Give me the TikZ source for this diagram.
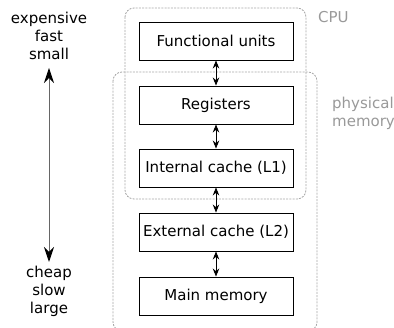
\documentclass[tikz,border=0pt]{standalone}
\usepackage{fontspec}
\setmainfont{DejaVu Sans}
\usetikzlibrary{arrows.meta}
\begin{document}
\begin{tikzpicture}[x=1pt,y=-1pt,
  level/.style={draw,line width=0.9pt,minimum width=154pt,minimum height=38pt,
    inner sep=0pt,font=\fontsize{15}{17}\selectfont},
  link/.style={line width=0.9pt,{Stealth[length=8pt,width=6.5pt]}-{Stealth[length=8pt,width=6.5pt]}},
  group/.style={draw=black!35,line width=0.8pt,dash pattern=on 2pt off 1.2pt,rounded corners=9pt},
  grouplabel/.style={text=black!40,font=\fontsize{15}{18}\selectfont,align=left,anchor=west,inner sep=0pt},
  scalelabel/.style={font=\fontsize{15}{18}\selectfont,align=center,inner sep=0pt}]
\useasboundingbox (0,0) rectangle (394,328);

% grouping outlines
\draw[group] (125,8) rectangle (306,199);
\draw[group] (113,72) rectangle (317,331);
\node[grouplabel] (cpu) at (318,17) {CPU};
\node[grouplabel] (phys) at (332,113) {physical\\memory};

% memory hierarchy levels
\node[level] (fu)  at (216,41)  {Functional units};
\node[level] (reg) at (216,105) {Registers};
\node[level] (l1)  at (216,168) {Internal cache (L1)};
\node[level] (l2)  at (216,232) {External cache (L2)};
\node[level] (mm)  at (216,296) {Main memory};

\draw[link] (fu.south) -- (reg.north);
\draw[link] (reg.south) -- (l1.north);
\draw[link] (l1.south) -- (l2.north);
\draw[link] (l2.south) -- (mm.north);

% cost / speed / size scale
\node[scalelabel] (top) at (49,36) {expensive\\fast\\small};
\node[scalelabel] (bot) at (49,291) {cheap\\slow\\large};
\coordinate (a) at (49,68);
\coordinate (b) at (49,262);
\draw[draw=black!60,line width=0.9pt,
  {Stealth[length=15pt,width=10pt,inset=5pt,color=black]}-{Stealth[length=15pt,width=10pt,inset=5pt,color=black]}] (a) -- (b);
\end{tikzpicture}
\end{document}
